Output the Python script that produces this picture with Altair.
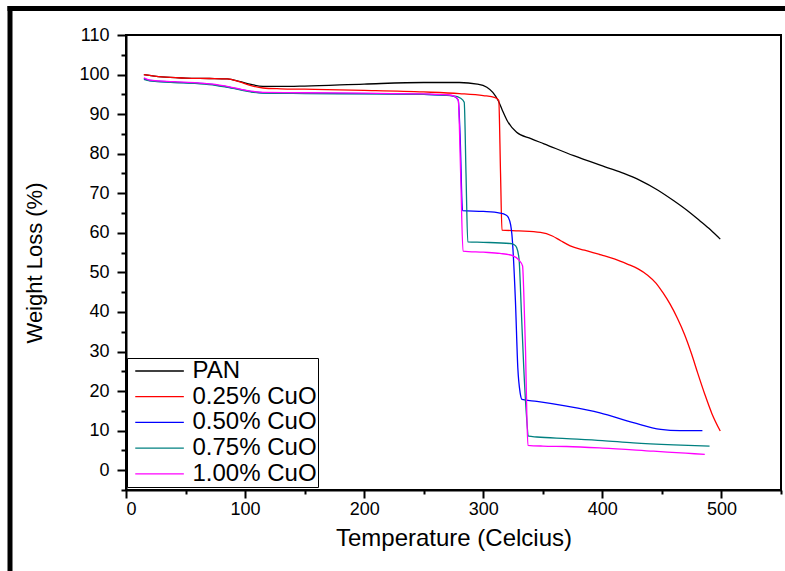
import altair as alt
import pandas as pd

series_names = ["PAN", "0.25% CuO", "0.50% CuO", "0.75% CuO", "1.00% CuO"]
series_colors = ["#000000", "#ff0000", "#0000ff", "#008080", "#ff00ff"]

pan_t = [15, 30, 50, 70, 85, 95, 105, 115, 130, 150, 200, 250, 280, 295, 303, 308, 312.6, 316, 320, 328, 340, 351, 376, 404, 418, 432, 446, 460, 471, 482, 491, 499]
pan_w = [100, 99.4, 99.1, 99.0, 98.9, 98.3, 97.5, 97.0, 97.0, 97.1, 97.6, 98.0, 98.0, 97.6, 96.8, 95.5, 93.4, 91.0, 88.4, 85.4, 83.8, 82.5, 79.5, 76.5, 75.0, 73.2, 70.9, 68.1, 65.7, 63.0, 60.7, 58.4]

cu25_t = [15, 30, 50, 70, 85, 95, 105, 115, 130, 150, 200, 250, 280, 300, 310, 313, 314.5, 315.7, 330, 348, 358, 365, 373, 385, 399, 410, 421, 430, 438, 445, 451, 457, 463, 469, 475, 480, 486, 492, 499]
cu25_w = [100, 99.4, 99.1, 99.0, 98.9, 98.2, 97.2, 96.6, 96.4, 96.3, 96.0, 95.6, 95.2, 94.7, 94.2, 93.5, 75.0, 60.7, 60.5, 60.1, 59.2, 58.0, 56.7, 55.6, 54.4, 53.4, 52.1, 50.9, 49.3, 47.3, 44.8, 41.9, 38.4, 34.3, 29.3, 24.6, 19.2, 14.3, 9.9]

cu50_t = [15, 20, 40, 60, 75, 90, 105, 115, 150, 200, 250, 270, 276, 279, 280.5, 282.6, 300, 314, 319, 321, 323, 324, 327, 329, 331, 332.5, 345, 370, 398, 426, 449, 465, 484]
cu50_w = [99.0, 98.5, 98.1, 97.8, 97.4, 96.6, 95.7, 95.4, 95.3, 95.2, 95.0, 94.8, 94.4, 93.5, 85.0, 65.6, 65.4, 65.0, 64.5, 63.9, 62.0, 59.7, 42.8, 25.9, 19.5, 17.9, 17.4, 16.2, 14.5, 12.0, 10.3, 10.0, 10.0]

cu75_t = [15, 20, 40, 60, 75, 90, 105, 115, 150, 200, 250, 275, 281, 284, 285.5, 287, 300, 322.7, 326, 328, 330, 332, 334, 336, 338, 345, 370, 400, 426, 460, 490]
cu75_w = [98.8, 98.4, 98.0, 97.7, 97.3, 96.5, 95.6, 95.3, 95.2, 95.1, 95.0, 94.6, 94.0, 93.0, 75.0, 57.7, 57.6, 57.3, 57.0, 56.3, 53.5, 40.0, 25.9, 15.0, 8.6, 8.4, 8.0, 7.5, 6.9, 6.4, 6.1]

cu100_t = [15, 20, 40, 60, 75, 90, 105, 115, 150, 200, 250, 270, 276, 279, 281, 283, 300, 314, 325, 330, 333, 334, 335.5, 336.5, 337.5, 350, 370, 400, 443, 470, 486]
cu100_w = [99.2, 98.6, 98.2, 97.9, 97.5, 96.7, 95.8, 95.5, 95.4, 95.3, 95.1, 94.9, 94.5, 93.5, 75.0, 55.4, 55.1, 54.8, 54.2, 53.1, 51.6, 45.0, 30.0, 15.0, 6.3, 6.1, 6.0, 5.6, 4.8, 4.3, 4.0]

x_ticks = list(range(0, 551, 50))
y_ticks = list(range(-5, 111, 5))

rows = []
for name, ts, ws in zip(series_names,
                        [pan_t, cu25_t, cu50_t, cu75_t, cu100_t],
                        [pan_w, cu25_w, cu50_w, cu75_w, cu100_w]):
    for i, (t, w) in enumerate(zip(ts, ws)):
        rows.append({"series": name, "T": t, "W": w, "i": i})
df = pd.DataFrame(rows)

FONT = "Liberation Sans"

lines = alt.Chart(df).mark_line(strokeWidth=1.3, interpolate="monotone").encode(
    x=alt.X("T:Q", scale=alt.Scale(domain=[0, 550], nice=False, zero=False),
            axis=alt.Axis(values=x_ticks, title="Temperature (Celcius)",
                          labelExpr="datum.value % 100 === 0 ? datum.label : ''",
                          tickSize={"condition": {"test": "datum.value % 100 === 0", "value": 8}, "value": 4},
                          labelPadding=2, titlePadding=8, labelFontSize=18, titleFontSize=24,
                          labelOverlap=False, grid=False)),
    y=alt.Y("W:Q", scale=alt.Scale(domain=[-5, 110], nice=False, zero=False),
            axis=alt.Axis(values=y_ticks, title="Weight Loss (%)",
                          labelExpr="datum.value % 10 === 0 ? datum.label : ''",
                          tickSize={"condition": {"test": "datum.value % 10 === 0", "value": 9}, "value": 5},
                          labelPadding=8, titlePadding=32, labelFontSize=18, titleFontSize=22,
                          labelOverlap=False, grid=False)),
    color=alt.Color("series:N", scale=alt.Scale(domain=series_names, range=series_colors),
                    sort=series_names,
                    legend=alt.Legend(orient="none", legendX=1, legendY=323, title=None,
                                      symbolType="M-1,0H6.2", symbolSize=182.25,
                                      symbolStrokeWidth=1.3, symbolOffset=2,
                                      labelOffset=38.5, labelFontSize=24, labelFont=FONT,
                                      labelColor="black", padding=1, rowPadding=1.7,
                                      strokeColor="black", fillColor="white")),
    order=alt.Order("i:Q"),
)

frame_df = pd.DataFrame({"k": [0]})
frame_top = alt.Chart(frame_df).mark_rule(color="black", strokeWidth=5).encode(
    x=alt.value(-118.5), x2=alt.value(659), y=alt.value(-26.5))
frame_left = alt.Chart(frame_df).mark_rule(color="black", strokeWidth=5).encode(
    x=alt.value(-116), y=alt.value(-29), y2=alt.value(536))

chart = alt.layer(lines, frame_top, frame_left).properties(
    width=655, height=455,
    autosize=alt.AutoSizeParams(type="none"),
    padding={"left": 126, "top": 35, "right": 4, "bottom": 81},
    background="white",
).configure_view(stroke="black", strokeWidth=2).configure_axis(
    domainColor="black", domainWidth=2, tickColor="black", tickWidth=2,
    labelColor="black", titleColor="black", labelFont=FONT, titleFont=FONT,
    titleFontWeight="normal",
)

chart.save("out.html", embed_options={"renderer": "svg", "actions": False})
